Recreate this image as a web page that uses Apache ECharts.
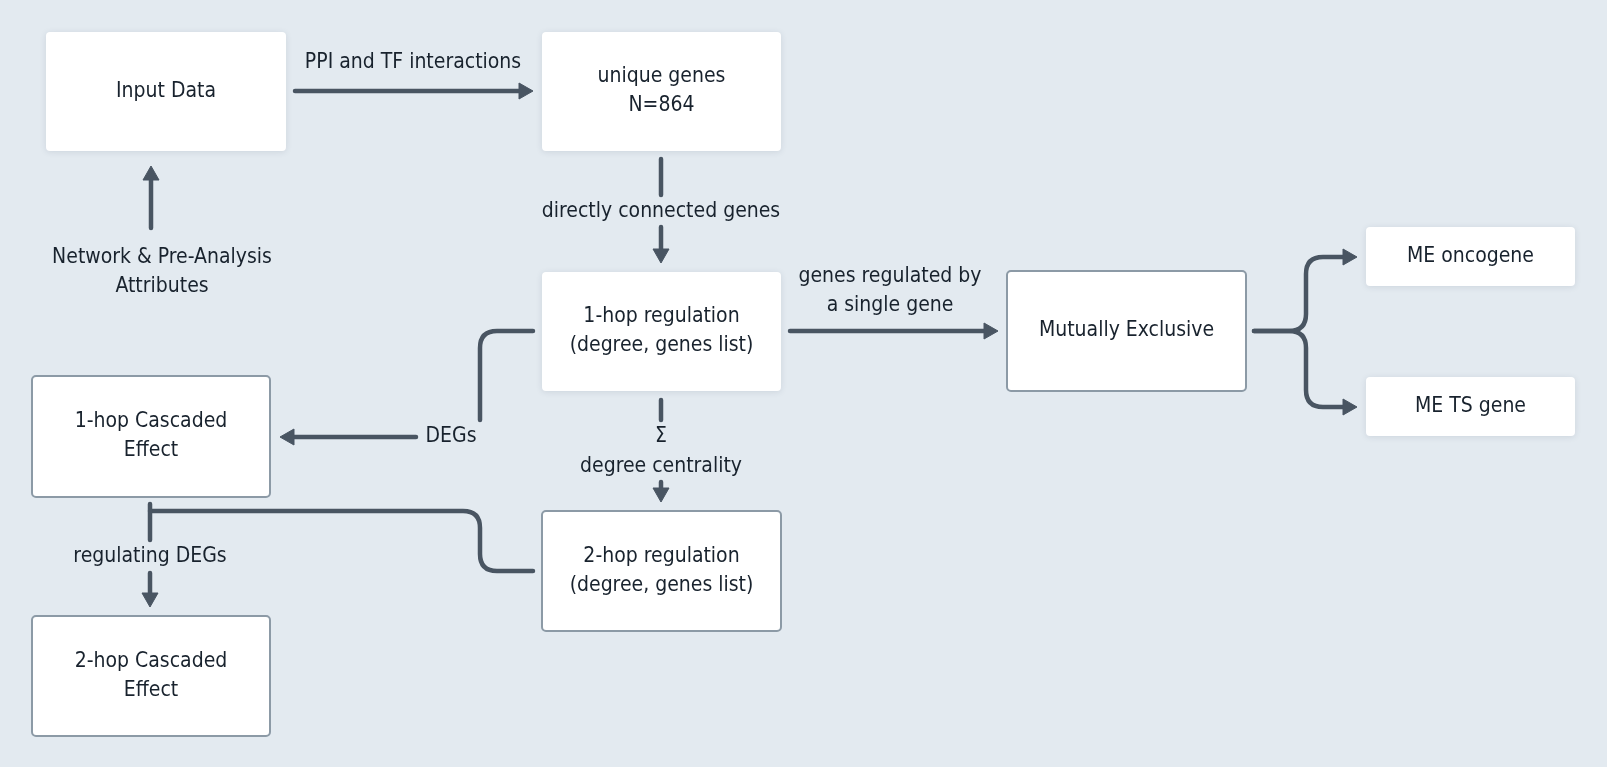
<!DOCTYPE html>
<html>
<head>
<meta charset="utf-8">
<script src="https://cdn.jsdelivr.net/npm/echarts@6/dist/echarts.min.js"></script>
<style>
  html, body { margin: 0; padding: 0; background: #E3EAF0; }
  #chart { width: 1607px; height: 767px; }
</style>
</head>
<body>
<div id="chart"></div>
<script>
// Flowchart drawn on a hidden 1607x767 value grid (y inverted), one unit = one pixel.

const FONT = '"DejaVu Sans Condensed", "DejaVu Sans", Roboto, sans-serif';
const INK = '#18222D';
const LINE = '#495562';

const nodeLabels = [
  'Input Data',
  'unique genes\nN=864',
  '1-hop regulation\n(degree, genes list)',
  'Mutually Exclusive',
  'ME oncogene',
  'ME TS gene',
  '1-hop Cascaded\nEffect',
  '2-hop regulation\n(degree, genes list)',
  '2-hop Cascaded\nEffect',
];
// [x0, y0, x1, y1] in grid units
const nodeFrames = [
  [46, 32, 286, 151],
  [542, 32, 781, 151],
  [542, 272, 781, 391],
  [1007, 271, 1246, 391],
  [1366, 227, 1575, 286],
  [1366, 377, 1575, 436],
  [32, 376, 270, 497],
  [542, 511, 781, 631],
  [32, 616, 270, 736],
];
const nodeOutlined = [false, false, false, true, false, false, true, true, true];

const edgePaths = [
  [[295, 91], [533, 91]],
  [[151, 228], [151, 166]],
  [[661, 159], [661, 195]],
  [[661, 227], [661, 263]],
  [[661, 400], [661, 420]],
  [[661, 482], [661, 502]],
  [[790, 331], [998, 331]],
  [[1254, 331], [1306, 331], [1306, 257], [1357, 257]],
  [[1254, 331], [1306, 331], [1306, 407], [1357, 407]],
  [[533, 331], [480, 331], [480, 420]],
  [[416, 437], [280, 437]],
  [[533, 571], [480, 571], [480, 511], [150, 511]],
  [[150, 504], [150, 540]],
  [[150, 573], [150, 607]],
];
const edgeArrow = [true, true, false, true, false, true, true, true, true, false, true, false, false, true];

const edgeLabels = [
  'PPI and TF interactions',
  'Network & Pre-Analysis\nAttributes',
  'directly connected genes',
  'genes regulated by\na single gene',
  'DEGs',
  'Σ',
  'degree centrality',
  'regulating DEGs',
];
const edgeLabelAt = [[413, 63], [162, 272], [661, 212], [890, 291], [451, 437], [661, 437], [661, 467], [150, 557]];

function roundedPath(pts, r) {
  let d = 'M' + pts[0][0] + ' ' + pts[0][1];
  for (let i = 1; i < pts.length - 1; i++) {
    const [px, py] = pts[i - 1], [cx, cy] = pts[i], [nx, ny] = pts[i + 1];
    const l1 = Math.hypot(cx - px, cy - py), l2 = Math.hypot(nx - cx, ny - cy);
    const rr = Math.min(r, l1 / 2, l2 / 2);
    const ax = cx - (cx - px) / l1 * rr, ay = cy - (cy - py) / l1 * rr;
    const bx = cx + (nx - cx) / l2 * rr, by = cy + (ny - cy) / l2 * rr;
    d += ' L' + ax + ' ' + ay + ' Q' + cx + ' ' + cy + ' ' + bx + ' ' + by;
  }
  const last = pts[pts.length - 1];
  return d + ' L' + last[0] + ' ' + last[1];
}

const chart = echarts.init(document.getElementById('chart'));

chart.setOption({
  backgroundColor: '#E3EAF0',
  animation: false,
  grid: { left: 0, right: 0, top: 0, bottom: 0 },
  xAxis: { type: 'value', min: 0, max: 1607, show: false },
  yAxis: { type: 'value', min: 0, max: 767, inverse: true, show: false },
  series: [
    {
      type: 'custom',
      coordinateSystem: 'cartesian2d',
      data: nodeLabels.map((_, i) => i),
      renderItem: (params, api) => {
        const i = params.dataIndex;
        const f = nodeFrames[i];
        const a = api.coord([f[0], f[1]]), b = api.coord([f[2], f[3]]);
        const outlined = nodeOutlined[i];
        return {
          type: 'group',
          children: [
            {
              type: 'rect',
              shape: { x: a[0], y: a[1], width: b[0] - a[0], height: b[1] - a[1], r: 4 },
              style: outlined
                ? { fill: '#FFFFFF', stroke: '#8C9AA6', lineWidth: 2 }
                : { fill: '#FFFFFF', shadowBlur: 6, shadowColor: 'rgba(40,60,80,0.12)', shadowOffsetY: 1 },
            },
            {
              type: 'text',
              style: {
                text: nodeLabels[i], x: (a[0] + b[0]) / 2, y: (a[1] + b[1]) / 2,
                align: 'center', verticalAlign: 'middle',
                fontFamily: FONT, fontSize: 21, lineHeight: 29, fill: INK,
              },
            },
          ],
        };
      },
    },
    {
      type: 'custom',
      coordinateSystem: 'cartesian2d',
      data: edgePaths.map((_, i) => i),
      renderItem: (params, api) => {
        const i = params.dataIndex;
        const pts = edgePaths[i].map(p => api.coord(p));
        const children = [];
        const head = 14, half = 8;
        if (edgeArrow[i]) {
          const n = pts.length;
          const [tx, ty] = pts[n - 1], [sx, sy] = pts[n - 2];
          const len = Math.hypot(tx - sx, ty - sy);
          const ux = (tx - sx) / len, uy = (ty - sy) / len;
          const bx = tx - ux * head, by = ty - uy * head;
          pts[n - 1] = [bx + ux * 2, by + uy * 2];
          children.push({
            type: 'polygon',
            shape: { points: [[tx, ty], [bx - uy * half, by + ux * half], [bx + uy * half, by - ux * half]] },
            style: { fill: LINE, stroke: LINE, lineWidth: 1, lineJoin: 'round' },
          });
        }
        children.unshift({
          type: 'path',
          shape: { pathData: roundedPath(pts, 17) },
          style: { fill: 'none', stroke: LINE, lineWidth: 4.5, lineCap: 'round', lineJoin: 'round' },
        });
        return { type: 'group', children };
      },
    },
    {
      type: 'custom',
      coordinateSystem: 'cartesian2d',
      data: edgeLabels.map((_, i) => i),
      renderItem: (params, api) => {
        const i = params.dataIndex;
        const p = api.coord(edgeLabelAt[i]);
        return {
          type: 'text',
          style: {
            text: edgeLabels[i], x: p[0], y: p[1],
            align: 'center', verticalAlign: 'middle',
            fontFamily: FONT, fontSize: 21, lineHeight: 29, fill: INK,
          },
        };
      },
    },
  ],
});
</script>
</body>
</html>
